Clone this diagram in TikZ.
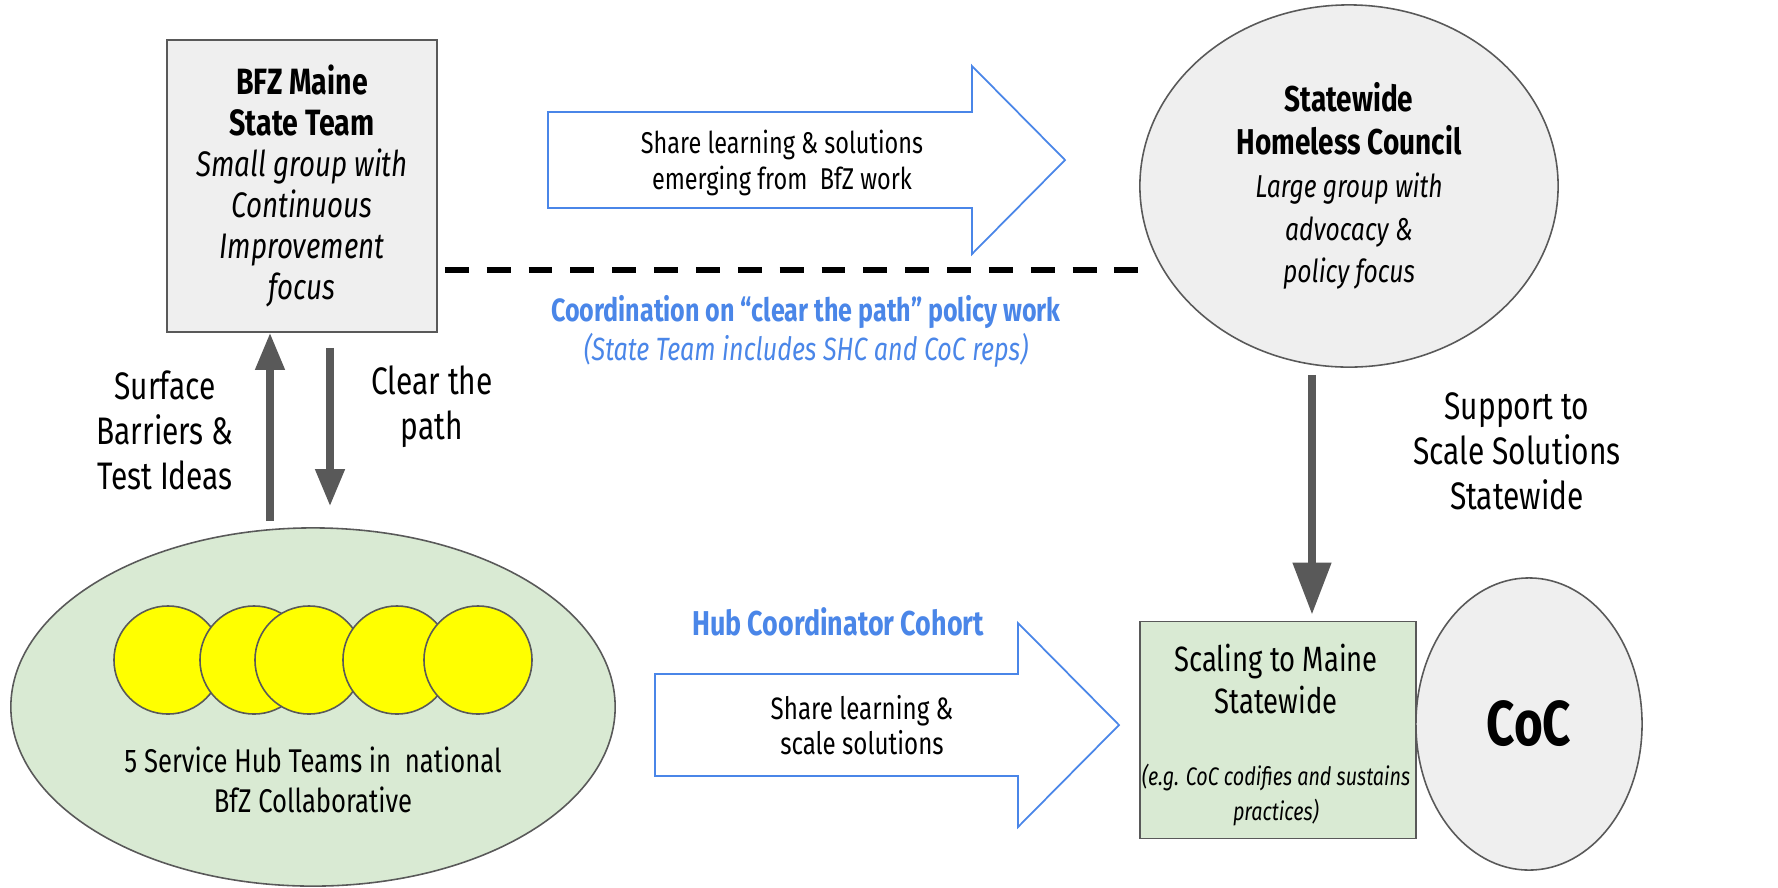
\documentclass[tikz,border=0pt]{standalone}
\usepackage{fontspec}
\setmainfont{Fira Sans}[FakeStretch=0.78]
\usepackage{tikz}
\usetikzlibrary{shapes.geometric, arrows.meta, calc}
\definecolor{boxgray}{HTML}{EFEFEF}
\definecolor{edgegray}{HTML}{595959}
\definecolor{hubgreen}{HTML}{D9EAD3}
\definecolor{linkblue}{HTML}{4A86E8}
\definecolor{hubyellow}{HTML}{FFFF00}
\tikzstyle{group} = [draw=edgegray, line width=0.45pt, align=center, inner sep=0pt]
\tikzstyle{teambox} = [group, rectangle, fill=boxgray, minimum width=2.7cm, minimum height=2.92cm, font=\fontsize{10.1}{11.7}\selectfont]
\tikzstyle{councilbox} = [group, ellipse, fill=boxgray, minimum width=4.18cm, minimum height=3.62cm, font=\fontsize{9}{12.2}\selectfont]
\tikzstyle{hubring} = [group, ellipse, fill=hubgreen, minimum width=6.04cm, minimum height=3.58cm]
\tikzstyle{hub} = [circle, draw=edgegray, line width=0.45pt, fill=hubyellow, minimum size=1.08cm, inner sep=0pt]
\tikzstyle{scalebox} = [group, rectangle, fill=hubgreen, minimum width=2.76cm, minimum height=2.17cm]
\tikzstyle{cocbox} = [group, ellipse, fill=boxgray, minimum width=2.26cm, minimum height=2.92cm, font=\fontsize{18}{20}\selectfont\bfseries]
\tikzstyle{fatarrow} = [draw=linkblue, line width=0.5pt, fill=white]
\tikzstyle{arrowtext} = [align=center, inner sep=0pt, font=\fontsize{8.55}{10.5}\selectfont]
\tikzstyle{note} = [align=center, inner sep=0pt, font=\fontsize{10.9}{12.8}\selectfont]
\tikzstyle{bluenote} = [align=center, inner sep=0pt, text=linkblue, font=\fontsize{9.15}{11.1}\selectfont]
\tikzstyle{arrow} = [edgegray, line width=2pt, -{Triangle[length=10.5pt,width=8pt]}]
\tikzstyle{bigarrow} = [edgegray, line width=2.3pt, -{Triangle[length=14.8pt,width=10.5pt]}]
\tikzstyle{dashline} = [line width=1.7pt, dash pattern=on 6.8pt off 5.1pt]
\newcommand{\ttl}[2][10.4]{{\fontsize{#1}{11.7}\selectfont\bfseries #2}}

\begin{document}
\begin{tikzpicture}[x=0.01cm,y=-0.01cm]
\useasboundingbox (0,0) rectangle (1778,887);

% groups
\node(team)[teambox] at (302,186) {\ttl{BFZ Maine}\\\ttl{State Team}\\\textit{Small group with}\\\textit{Continuous}\\\textit{Improvement}\\\textit{focus}};
\node(council)[councilbox] at (1349,186) {\ttl[10.2]{Statewide}\\\ttl[10.2]{Homeless Council}\\\textit{Large group with}\\\textit{advocacy \&}\\\textit{policy focus}};
\node(hubs)[hubring] at (313,707) {};
\node(scale)[scalebox] at (1278,730) {};
\node(coc)[cocbox] at (1529,724) {CoC};

% five hub teams
\foreach \x/\n in {168/1, 254/2, 309/3, 397/4, 478/5}
  \node(hub\n)[hub] at (\x,660) {};
\node(hubtext)[arrowtext, font=\fontsize{9.35}{11.4}\selectfont] at (313,780) {5 Service Hub Teams in~~national\\BfZ Collaborative};

\node(scaletitle)[arrowtext, font=\fontsize{10}{12}\selectfont] at (1276,679) {Scaling to Maine\\Statewide};
\node(scalenote)[arrowtext, font=\fontsize{7.2}{10}\selectfont\itshape] at (1276,795) {(e.g. CoC codifies and sustains\\practices)};

% wide arrows
\draw [fatarrow] (548,112) -- (972,112) -- (972,66) -- (1065,160) -- (972,254) -- (972,208) -- (548,208) -- cycle;
\node(sharetop)[arrowtext] at (782,163) {Share learning \& solutions\\emerging from~~BfZ work};
\draw [fatarrow] (655,674) -- (1018,674) -- (1018,623) -- (1119,725) -- (1018,827) -- (1018,776) -- (655,776) -- cycle;
\node(sharebot)[arrowtext, font=\fontsize{8.8}{9.9}\selectfont] at (862,725) {Share learning \&\\scale solutions};
\node(cohort)[bluenote, font=\fontsize{9.8}{11}\selectfont\bfseries] at (838,622) {Hub Coordinator Cohort};

% coordination
\coordinate (dashR) at (1140,270);
\draw [dashline] ([xshift=0.07cm]dashR -| team.east) -- (dashR);
\node(coord)[bluenote] at (806,331) {\textbf{Coordination on “clear the path” policy work}\\\textit{(State Team includes SHC and CoC reps)}};

% vertical arrows
\draw [arrow] ($(hubs.north)+(-43,-6)$) -- ($(team.south)+(-32,0)$);
\draw [arrow] ($(team.south)+(28,15)$) -- ($(hubs.north)+(17,-21)$);
\draw [bigarrow] ($(council.south)+(-37,7)$) -- ($(scale.north)+(34,-6)$);
\node(surface)[note] at (165,430) {Surface\\Barriers \&\\Test Ideas};
\node(clear)[note] at (432,407) {Clear the\\path};
\node(support)[note] at (1517,451) {Support to\\Scale Solutions\\Statewide};

\end{tikzpicture}
\end{document}
